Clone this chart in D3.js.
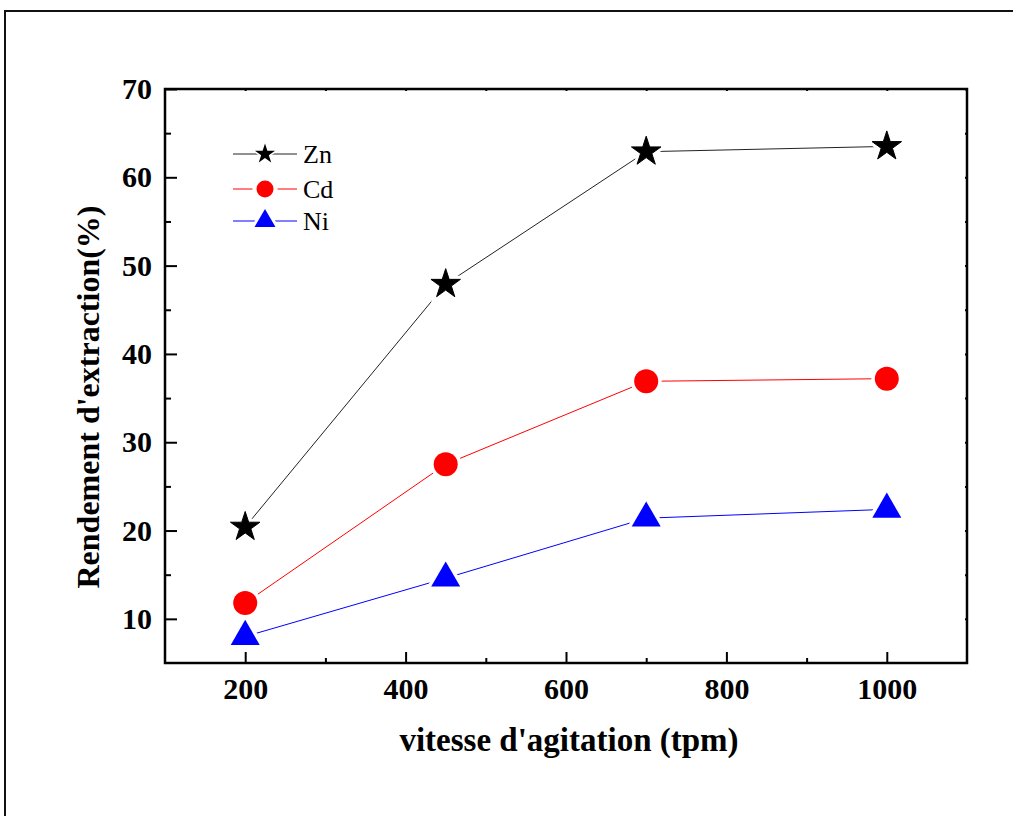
<!DOCTYPE html>
<html>
<head>
<meta charset="utf-8">
<script src="https://cdn.jsdelivr.net/npm/d3@7"></script>
<style>
  body { margin: 0; background: #fff; }
  text { font-family: "Liberation Serif", "Times New Roman", serif; }
</style>
</head>
<body>
<div id="chart"></div>
<script>
let speeds = [200, 450, 700, 1000]
let zn = [20.4, 47.9, 62.9, 63.5]
let cd = [11.8, 27.5, 36.9, 37.2]
let ni = [8.0, 14.6, 21.4, 22.4]
let seriesNames = ["Zn", "Cd", "Ni"]
let xTicks = [200, 400, 600, 800, 1000]
let xMinor = [300, 500, 700, 900]
let yTicks = [10, 20, 30, 40, 50, 60, 70]
let yMinor = [15, 25, 35, 45, 55, 65]

let W = 1013, H = 816
let plotLeft = 165, plotRight = 967, plotTop = 89, plotBottom = 663

let svg = d3.select("#chart")
    .append("svg")
    .attr("width", W)
    .attr("height", H)

// outer frame (cut off at right / bottom)
svg.append("rect")
    .attr("x", 5).attr("y", 11)
    .attr("width", 1200).attr("height", 1000)
    .attr("fill", "none")
    .attr("stroke", "#111")
    .attr("stroke-width", 2)

let x = d3.scaleLinear().domain([100, 1100]).range([plotLeft, plotRight])
let y = d3.scaleLinear().domain([5, 70]).range([plotBottom, plotTop])

// axes
svg.append("g")
    .attr("transform", "translate(0," + plotBottom + ")")
    .call(d3.axisBottom(x).tickValues(xTicks).tickFormat(d3.format("d"))
        .tickSizeInner(-11).tickSizeOuter(0).tickPadding(15))
svg.append("g")
    .attr("transform", "translate(0," + plotBottom + ")")
    .call(d3.axisBottom(x).tickValues(xMinor).tickSizeInner(-5).tickSizeOuter(0).tickFormat(""))
svg.append("g")
    .attr("transform", "translate(" + plotLeft + ",0)")
    .call(d3.axisLeft(y).tickValues(yTicks).tickSizeInner(-12).tickSizeOuter(0).tickPadding(13))
svg.append("g")
    .attr("transform", "translate(" + plotLeft + ",0)")
    .call(d3.axisLeft(y).tickValues(yMinor).tickSizeInner(-6).tickSizeOuter(0).tickFormat(""))
svg.append("g")
    .attr("transform", "translate(0," + plotTop + ")")
    .call(d3.axisTop(x).tickValues(xTicks.concat(xMinor)).tickSizeInner(-2).tickSizeOuter(0).tickFormat(""))
svg.append("g")
    .attr("transform", "translate(" + plotRight + ",0)")
    .call(d3.axisRight(y).tickValues(yTicks.concat(yMinor)).tickSizeInner(-2).tickSizeOuter(0).tickFormat(""))

svg.selectAll(".domain").remove()
svg.selectAll(".tick line").attr("stroke", "#000").attr("stroke-width", 2)
svg.selectAll(".tick text")
    .attr("fill", "#000")
    .style("font-size", "30px")
    .style("font-weight", "bold")
    .style("font-family", "'Liberation Serif', serif")

svg.append("rect")
    .attr("x", plotLeft).attr("y", plotTop)
    .attr("width", plotRight - plotLeft).attr("height", plotBottom - plotTop)
    .attr("fill", "none")
    .attr("stroke", "#000")
    .attr("stroke-width", 2.5)

// axis titles
svg.append("text")
    .attr("x", (plotLeft + plotRight) / 2 + 3)
    .attr("y", 751)
    .attr("text-anchor", "middle")
    .style("font-size", "33px")
    .style("font-weight", "bold")
    .text("vitesse d'agitation (tpm)")

svg.append("text")
    .attr("transform", "translate(99,397) rotate(-90)")
    .attr("text-anchor", "middle")
    .style("font-size", "32px")
    .style("font-weight", "bold")
    .text("Rendement d'extraction(%)")

// series
let series = [
    { name: seriesNames[0], values: zn, color: "#000", line: "#222", shape: d3.symbolStar, size: 270, lsize: 125 },
    { name: seriesNames[1], values: cd, color: "#ff0000", line: "#ff0000", shape: d3.symbolCircle, size: 452, lsize: 227 },
    { name: seriesNames[2], values: ni, color: "#0000ff", line: "#0000ff", shape: d3.symbolTriangle, size: 364, lsize: 190 }
]

let line = d3.line()
    .x((d, i) => x(speeds[i]))
    .y(d => y(d))

series.forEach(s => {
    svg.append("path")
        .attr("d", line(s.values))
        .attr("fill", "none")
        .attr("stroke", s.line)
        .attr("stroke-width", 1)
})

// white halo for the gap between lines and markers
series.forEach(s => {
    svg.selectAll(null)
        .data(s.values)
        .enter()
        .append("path")
        .attr("d", d3.symbol().type(s.shape).size(s.size))
        .attr("transform", (d, i) => "translate(" + x(speeds[i]) + "," + y(d) + ")")
        .attr("fill", "#fff")
        .attr("stroke", "#fff")
        .attr("stroke-width", 7)
})

series.forEach(s => {
    svg.selectAll(null)
        .data(s.values)
        .enter()
        .append("path")
        .attr("d", d3.symbol().type(s.shape).size(s.size))
        .attr("transform", (d, i) => "translate(" + x(speeds[i]) + "," + y(d) + ")")
        .attr("fill", s.color)
        .attr("stroke", s.color)
        .attr("stroke-width", s.shape === d3.symbolStar ? 1 : 0)
})

// legend
let legendY = [154, 189, 221]
series.forEach((s, k) => {
    let ly = legendY[k]
    svg.append("line")
        .attr("x1", 233).attr("x2", 297)
        .attr("y1", ly).attr("y2", ly)
        .attr("stroke", s.line)
        .attr("stroke-width", 1)
    svg.append("path")
        .attr("d", d3.symbol().type(s.shape).size(s.lsize * 2.2))
        .attr("transform", "translate(265," + ly + ")")
        .attr("fill", "#fff")
    svg.append("path")
        .attr("d", d3.symbol().type(s.shape).size(s.lsize))
        .attr("transform", "translate(265," + ly + ")")
        .attr("fill", s.color)
    svg.append("text")
        .attr("x", 303)
        .attr("y", ly + 9)
        .style("font-size", "26px")
        .text(s.name)
})
</script>
</body>
</html>
